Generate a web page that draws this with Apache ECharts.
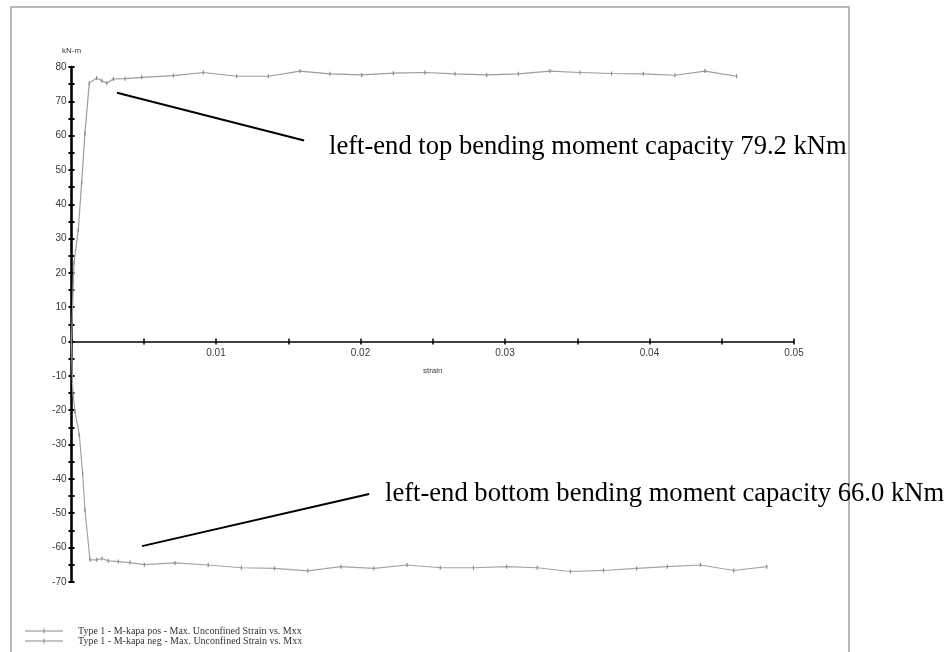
<!DOCTYPE html>
<html>
<head>
<meta charset="utf-8">
<script src="https://cdn.jsdelivr.net/npm/echarts@6/dist/echarts.min.js"></script>
<style>
  html, body { margin: 0; padding: 0; background: #ffffff; }
  #chart { width: 946px; height: 652px; }
</style>
</head>
<body>
<div id="chart"></div>
<script>
// Moment-curvature results: positive bending (top) and negative bending (bottom)
const posStrain = [0, 0.00017, 0.00047, 0.0007, 0.00093, 0.00123, 0.00174, 0.0021, 0.00244, 0.0029, 0.0037,
  0.00486, 0.00705, 0.00912, 0.01143, 0.01362, 0.01581, 0.01789, 0.02008, 0.02227, 0.02446, 0.02654,
  0.02873, 0.03092, 0.03311, 0.03519, 0.03738, 0.03957, 0.04176, 0.04384, 0.04603];
const posMoment = [0, 22.9, 32.6, 46.2, 60.7, 75.3, 76.8, 76.0, 75.3, 76.5, 76.6,
  77.0, 77.5, 78.4, 77.3, 77.3, 78.8, 78.0, 77.7, 78.2, 78.4, 78.0,
  77.7, 78.0, 78.8, 78.4, 78.1, 78.0, 77.6, 78.8, 77.3];

const negStrain = [0, 0.00008, 0.00024, 0.00054, 0.00077, 0.00093, 0.00128, 0.00174, 0.0021, 0.00255, 0.00324,
  0.00405, 0.00504, 0.00716, 0.00946, 0.01175, 0.01405, 0.01635, 0.01864, 0.02093, 0.02322, 0.02552,
  0.02782, 0.03011, 0.03223, 0.03453, 0.03682, 0.03911, 0.04123, 0.04353, 0.04583, 0.04812];
const negMoment = [0, -14.1, -20.4, -27.2, -38.4, -49.1, -63.6, -63.6, -63.2, -63.9, -64.1,
  -64.4, -65.0, -64.5, -65.1, -65.9, -66.1, -66.8, -65.6, -66.1, -65.1, -65.9,
  -65.9, -65.6, -65.9, -67.0, -66.7, -66.1, -65.6, -65.1, -66.7, -65.6];

const seriesNames = [
  'Type 1 - M-kapa pos - Max. Unconfined Strain vs. Mxx',
  'Type 1 - M-kapa neg - Max. Unconfined Strain vs. Mxx'
];

// Callout notes and the data-space segments pointing at each curve
const topNote = 'left-end top bending moment capacity 79.2 kNm';
const bottomNote = 'left-end bottom bending moment capacity 66.0 kNm';
const topPointer = [[0.00315, 72.5], [0.0161, 58.6]];
const bottomPointer = [[0.00488, -59.6], [0.0206, -44.4]];

const xMin = 0, xMax = 0.05, xStep = 0.005;
const yMin = -70, yMax = 80, yStep = 5;

const zip = (xs, ys) => xs.map((x, i) => [x, ys[i]]);

const labelFont = { fontFamily: 'Liberation Sans, Arial, sans-serif', color: '#3a3a3a' };
const tickStyleX = { color: '#000', width: 1.5 };
const tickStyleY = { color: '#000', width: 2 };

// The plot is split at M = 0 into a positive and a negative panel so that the
// strain axis (with its labels) sits on the zero line.
const plotLeft = 71.5, plotRight = 152, plotTop = 67, plotBottom = 70.2;
const plotHeight = 652 - plotTop - plotBottom;
const upperHeight = plotHeight * (yMax - 0) / (yMax - yMin);
const lowerHeight = plotHeight - upperHeight;

const xTickLabel = v => {
  const k = Math.round(v * 1000);
  return (k === 0 || k % 10) ? '' : (k / 1000).toFixed(2);
};
const yTickLabel = (v, hideZero) => {
  const r = Math.round(v);
  if (r % 10 !== 0) return '';
  if (hideZero && r === 0) return '';
  return String(r);
};

const chart = echarts.init(document.getElementById('chart'), null, { renderer: 'canvas' });

chart.setOption({
  backgroundColor: '#ffffff',
  animation: false,
  grid: [
    { left: plotLeft, right: plotRight, top: plotTop, height: upperHeight, containLabel: false },
    { left: plotLeft, right: plotRight, top: plotTop + upperHeight, height: lowerHeight, containLabel: false }
  ],
  xAxis: [
    {
      gridIndex: 0, type: 'value', min: xMin, max: xMax, interval: xStep, position: 'bottom',
      name: 'strain', nameLocation: 'middle', nameGap: 25,
      nameTextStyle: Object.assign({ fontSize: 8 }, labelFont),
      axisLine: { onZero: false, lineStyle: { color: '#000', width: 1.6 } },
      axisTick: { show: true, inside: false, length: 3, lineStyle: tickStyleX },
      axisLabel: Object.assign({ fontSize: 10, margin: 7, interval: 0, formatter: xTickLabel }, labelFont),
      splitLine: { show: false }
    },
    {
      gridIndex: 1, type: 'value', min: xMin, max: xMax, interval: xStep, position: 'top',
      axisLine: { show: false, onZero: false },
      axisTick: { show: true, inside: false, length: 3, lineStyle: tickStyleX },
      axisLabel: { show: false },
      splitLine: { show: false }
    }
  ],
  yAxis: [
    {
      gridIndex: 0, type: 'value', min: 0, max: yMax, interval: yStep, position: 'left',
      name: 'kN-m', nameLocation: 'end', nameGap: 12,
      nameTextStyle: Object.assign({ fontSize: 8, align: 'center' }, labelFont),
      axisLine: { onZero: false, lineStyle: { color: '#000', width: 2.6 } },
      axisTick: { show: true, inside: false, length: 3, lineStyle: tickStyleY },
      axisLabel: Object.assign({ fontSize: 10, margin: 5, interval: 0, formatter: v => yTickLabel(v, false) }, labelFont),
      splitLine: { show: false }
    },
    {
      gridIndex: 0, type: 'value', min: 0, max: yMax, interval: yStep, position: 'left',
      axisLine: { show: false, onZero: false },
      axisTick: { show: true, inside: true, length: 3, lineStyle: tickStyleY },
      axisLabel: { show: false },
      splitLine: { show: false }
    },
    {
      gridIndex: 1, type: 'value', min: yMin, max: 0, interval: yStep, position: 'left',
      axisLine: { onZero: false, lineStyle: { color: '#000', width: 2.6 } },
      axisTick: { show: true, inside: false, length: 3, lineStyle: tickStyleY },
      axisLabel: Object.assign({ fontSize: 10, margin: 5, interval: 0, formatter: v => yTickLabel(v, true) }, labelFont),
      splitLine: { show: false }
    },
    {
      gridIndex: 1, type: 'value', min: yMin, max: 0, interval: yStep, position: 'left',
      axisLine: { show: false, onZero: false },
      axisTick: { show: true, inside: true, length: 3, lineStyle: tickStyleY },
      axisLabel: { show: false },
      splitLine: { show: false }
    }
  ],
  legend: {
    orient: 'vertical', left: 20, top: 621,
    itemWidth: 38, itemHeight: 5, itemGap: 0,
    icon: 'path://M0,9H76V11H0ZM37,5H39V15H37Z',
    itemStyle: { color: '#8c8c8c' },
    textStyle: { fontFamily: 'Liberation Serif, Times New Roman, serif', fontSize: 10, color: '#333', lineHeight: 10, padding: [0, 0, 0, 10] },
    data: seriesNames
  },
  series: [
    {
      name: seriesNames[0], type: 'line', xAxisIndex: 0, yAxisIndex: 0,
      data: zip(posStrain, posMoment),
      symbol: 'rect', symbolSize: [1.2, 4], showAllSymbol: true,
      itemStyle: { color: '#8a8a8a' },
      lineStyle: { color: '#9c9c9c', width: 1.2 },
      markLine: {
        silent: true, symbol: ['none', 'none'], label: { show: false },
        lineStyle: { color: '#000', width: 2, type: 'solid' },
        data: [[{ coord: topPointer[0] }, { coord: topPointer[1] }]]
      }
    },
    {
      name: seriesNames[1], type: 'line', xAxisIndex: 1, yAxisIndex: 2,
      data: zip(negStrain, negMoment),
      symbol: 'rect', symbolSize: [1.2, 4], showAllSymbol: true,
      itemStyle: { color: '#8a8a8a' },
      lineStyle: { color: '#a4a4a4', width: 1.2 },
      markLine: {
        silent: true, symbol: ['none', 'none'], label: { show: false },
        lineStyle: { color: '#000', width: 2, type: 'solid' },
        data: [[{ coord: bottomPointer[0] }, { coord: bottomPointer[1] }]]
      }
    }
  ],
  graphic: [
    {
      type: 'rect', silent: true, z: -1,
      shape: { x: 11, y: 7, width: 838, height: 700 },
      style: { fill: 'none', stroke: '#b8b8b8', lineWidth: 2 }
    },
    {
      type: 'text', left: 329, top: 134,
      style: { text: topNote, fill: '#000', font: '26.6px "Liberation Serif", "Times New Roman", serif' }
    },
    {
      type: 'text', left: 385, top: 481,
      style: { text: bottomNote, fill: '#000', font: '26.6px "Liberation Serif", "Times New Roman", serif' }
    }
  ]
});
</script>
</body>
</html>
